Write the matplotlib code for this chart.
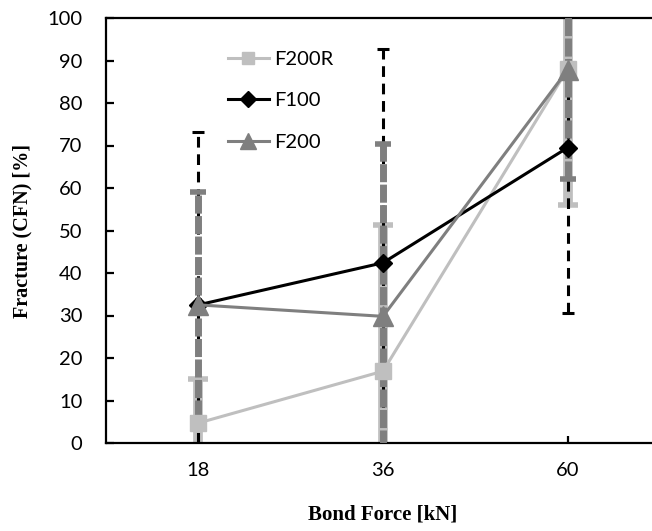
import numpy as np
import matplotlib
matplotlib.use("Agg")
import matplotlib.pyplot as plt

# Data
categories = ["18", "36", "60"]
series_names = ["F200R", "F100", "F200"]
f200r = [4.7, 16.9, 88.0]
f200r_err = [10.4, 34.4, 32.0]
f100 = [32.5, 42.4, 69.5]
f100_err = [40.7, 50.3, 38.9]
f200 = [32.5, 29.8, 87.8]
f200_err = [26.6, 40.6, 25.7]

x = np.arange(len(categories))

fig = plt.figure(figsize=(6.52, 5.31), dpi=100)
ax = fig.add_axes([106 / 652, 88 / 531, 554 / 652, 425 / 531])

tick_font = "Lato"
label_font = "Liberation Serif"

# Error bars (drawn in series order, like the spreadsheet)
eb = ax.errorbar(x, f200r, yerr=f200r_err, fmt="none", ecolor="#BFBFBF",
                 elinewidth=7, capsize=7, capthick=4, zorder=2)
eb = ax.errorbar(x, f100, yerr=f100_err, fmt="none", ecolor="black",
                 elinewidth=2.2, capsize=4.5, capthick=2.2, zorder=3)
eb[2][0].set_linestyle((0, (3.5, 2.2)))
eb = ax.errorbar(x, f200, yerr=f200_err, fmt="none", ecolor="#7F7F7F",
                 elinewidth=5, capsize=6, capthick=4, zorder=4)
eb[2][0].set_linestyle((0, (2.6, 0.35)))

# Series lines with markers
ax.plot(x, f200r, color="#BFBFBF", lw=2.2, marker="s", markersize=11,
        label=series_names[0], zorder=5)
ax.plot(x, f100, color="black", lw=2.2, marker="D", markersize=9,
        label=series_names[1], zorder=6)
ax.plot(x, f200, color="#7F7F7F", lw=2.2, marker="^", markersize=14,
        label=series_names[2], zorder=7)

ax.set_xlim(-0.5, 2.5)
ax.set_ylim(0, 100)
ax.set_xticks(x)
ax.set_xticklabels(categories)
ax.set_yticks(np.arange(0, 101, 10))

for side in ["left", "bottom", "top"]:
    ax.spines[side].set_linewidth(1.6)
ax.spines["right"].set_visible(False)

ax.tick_params(axis="y", direction="in", length=6, width=1.6, pad=17)
ax.tick_params(axis="x", direction="in", length=5, width=1.6, pad=14)
for lbl in ax.get_xticklabels() + ax.get_yticklabels():
    lbl.set_fontfamily(tick_font)
    lbl.set_fontsize(14.5)

ax.set_xlabel("Bond Force [kN]", fontfamily=label_font, fontweight="bold",
              fontsize=15, labelpad=18)
ax.set_ylabel("Fracture (CFN) [%]", fontfamily=label_font, fontweight="bold",
              fontsize=14.5, labelpad=11)

leg = ax.legend(loc="upper left", bbox_to_anchor=(0.188, 0.965), frameon=False,
                prop={"family": tick_font, "size": 14.5}, handlelength=2.0,
                handletextpad=0.3, labelspacing=1.2, markerscale=0.85)

fig.savefig("out.png", dpi=100)
